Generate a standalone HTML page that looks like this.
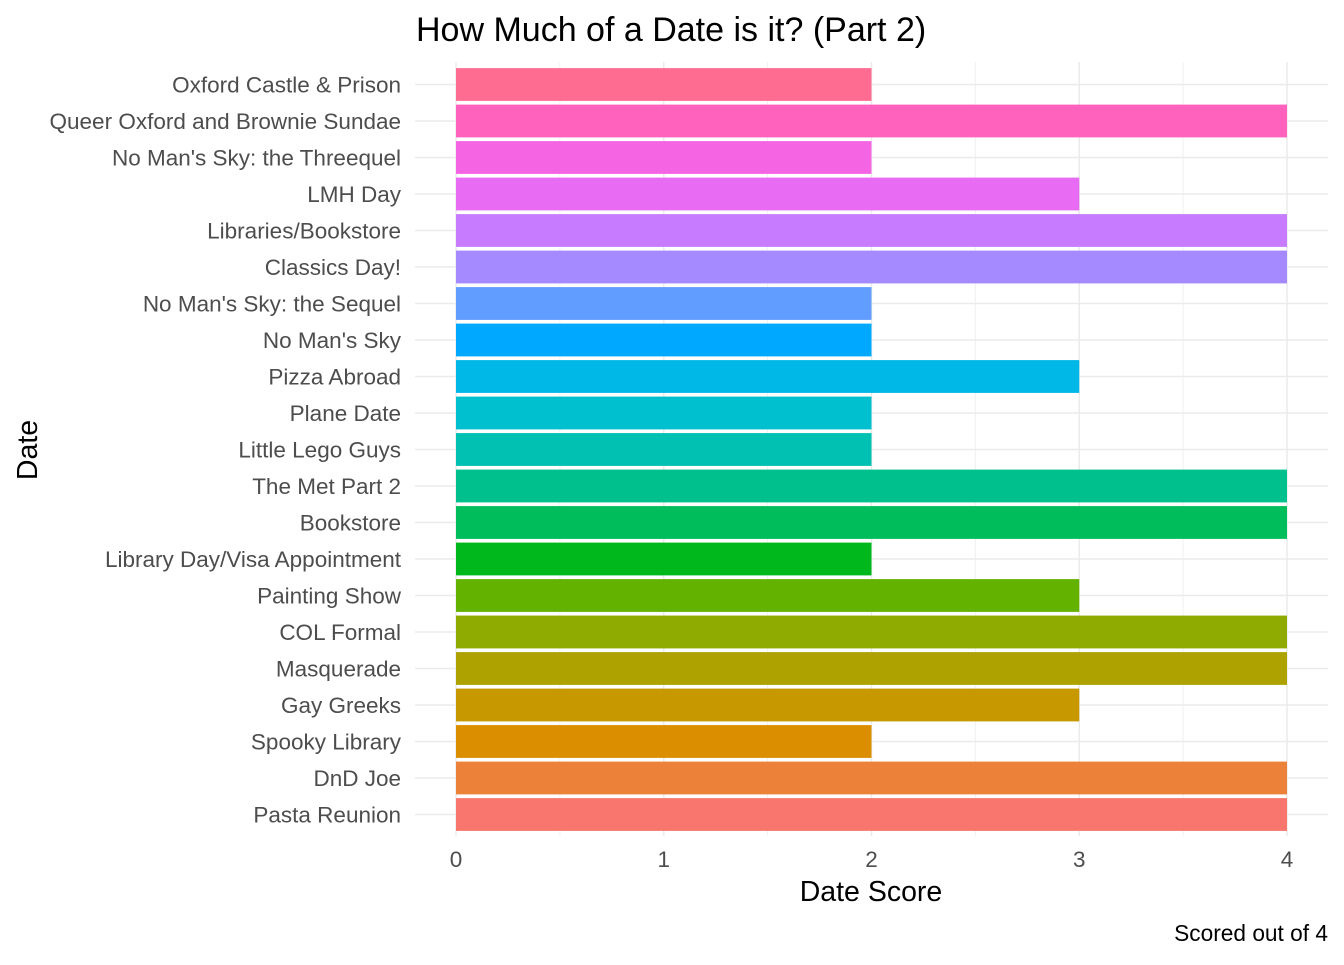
<!DOCTYPE html>
<html><head><meta charset="utf-8"><style>
body{margin:0;background:#fff;font-family:"Liberation Sans",sans-serif}
svg text{font-family:"Liberation Sans",sans-serif}
</style></head><body>
<svg id="chart" width="1344" height="960">
<rect width="1344" height="960" fill="#fff"/>
<g id="grid"></g><g id="bars"></g><g id="ylabels"></g><g id="xlabels"></g>
<text x="416" y="41" font-size="34" fill="#000">How Much of a Date is it? (Part 2)</text>
<text x="871" y="901" font-size="28.5" text-anchor="middle" fill="#000">Date Score</text>
<text transform="translate(37,450) rotate(-90)" font-size="28.5" text-anchor="middle" fill="#000">Date</text>
<text x="1328" y="941" font-size="22.7" text-anchor="end" fill="#000">Scored out of 4</text>
</svg>
<script>
const categories=["Pasta Reunion","DnD Joe","Spooky Library","Gay Greeks","Masquerade","COL Formal","Painting Show","Library Day/Visa Appointment","Bookstore","The Met Part 2","Little Lego Guys","Plane Date","Pizza Abroad","No Man's Sky","No Man's Sky: the Sequel","Classics Day!","Libraries/Bookstore","LMH Day","No Man's Sky: the Threequel","Queer Oxford and Brownie Sundae","Oxford Castle & Prison"];
const scores=[4,4,2,3,4,4,3,2,4,4,2,2,3,2,2,4,4,3,2,4,2];
const colors=["#F8766D","#EC8239","#DB8E00","#C79800","#AEA200","#8FAA00","#64B200","#00B81B","#00BD5C","#00C08D","#00C1B2","#00BFCF","#00B8E7","#00A9FF","#619CFF","#A58AFF","#C77CFF","#E76BF3","#F564E3","#FF62BC","#FF6C91"];
const xTicks=[0,1,2,3,4];
const NS="http://www.w3.org/2000/svg";
const x=v=>456+v*207.75;
const y=i=>814.5-i*36.5;
const panelL=415,panelR=1328,panelT=62,panelB=836;
function mk(t,a,p){const e=document.createElementNS(NS,t);for(const k in a)e.setAttribute(k,a[k]);p.appendChild(e);return e;}
const grid=document.getElementById('grid');
for(let v=0.5;v<4.5;v+=1){const l=mk('line',{x1:x(v),x2:x(v),y1:panelT,y2:panelB,stroke:'#f0f0f0','stroke-width':1},grid);

}
xTicks.forEach(v=>{const l=mk('line',{x1:x(v),x2:x(v),y1:panelT,y2:panelB,stroke:'#ebebeb','stroke-width':1.5},grid);


const t=mk('text',{x:x(v),y:867,'font-size':22.5,fill:'#4d4d4d','text-anchor':'middle'},document.getElementById('xlabels'));t.textContent=v;

});
categories.forEach((c,i)=>{const l=mk('line',{x1:panelL,x2:panelR,y1:y(i),y2:y(i),stroke:'#ebebeb','stroke-width':1.5},grid);


const r=mk('rect',{x:x(0),y:y(i)-16.4,width:x(scores[i])-x(0),height:32.8,fill:colors[i]},document.getElementById('bars'));


const t=mk('text',{x:401,y:y(i)+8,'font-size':22.5,fill:'#4d4d4d','text-anchor':'end'},document.getElementById('ylabels'));t.textContent=c;

});
</script>
</body></html>
